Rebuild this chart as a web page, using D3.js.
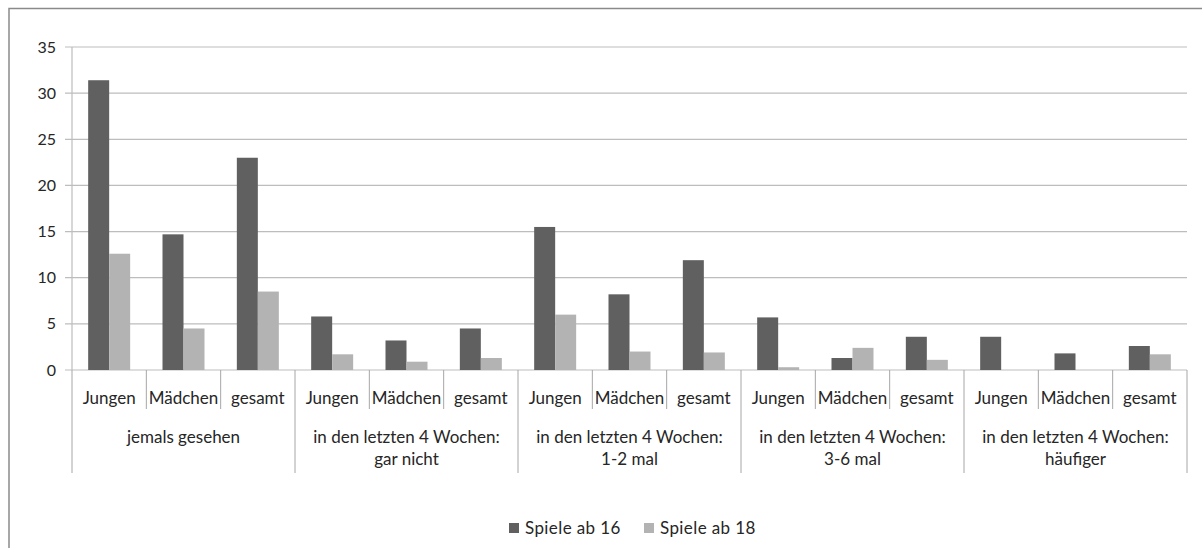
<!DOCTYPE html>
<html>
<head>
<meta charset="utf-8">
<script src="https://cdn.jsdelivr.net/npm/d3@7"></script>
<style>
  body { margin: 0; background: #fff; }
  svg { display: block; font-family: Lato, "Open Sans", sans-serif; }
</style>
</head>
<body>
<svg id="chart"></svg>
<script>
const groups = [
    ['jemals gesehen'],
    ['in den letzten 4 Wochen:', 'gar nicht'],
    ['in den letzten 4 Wochen:', '1-2 mal'],
    ['in den letzten 4 Wochen:', '3-6 mal'],
    ['in den letzten 4 Wochen:', 'häufiger']
];
const subs = ['Jungen', 'Mädchen', 'gesamt'];
const seriesNames = ['Spiele ab 16', 'Spiele ab 18'];
const ab16 = [31.4, 14.7, 23.0, 5.8, 3.2, 4.5, 15.5, 8.2, 11.9, 5.7, 1.3, 3.6, 3.6, 1.8, 2.6];
const ab18 = [12.6, 4.5, 8.5, 1.7, 0.9, 1.3, 6.0, 2.0, 1.9, 0.3, 2.4, 1.1, 0, 0, 1.7];
const yTicks = [0, 5, 10, 15, 20, 25, 30, 35];

document.addEventListener("DOMContentLoaded", function() {
    const width = 1202, height = 548;
    const left = 72, right = 1187, top = 47, bottom = 370;
    const colors = ['#606060', '#b3b3b3'];
    const textColor = '#262626';

    const svg = d3.select('#chart')
        .attr('width', width)
        .attr('height', height);

    // outer border (right and bottom cut off in the picture)
    svg.append('path')
        .attr('d', `M9,${height} V8.5 H${width}`)
        .attr('fill', 'none')
        .attr('stroke', '#8a8a8a')
        .attr('stroke-width', 1.5);

    const cats = d3.range(ab16.length);
    const x = d3.scaleBand().domain(cats).range([left, right])
        .paddingInner(0.435).paddingOuter(0.2175);
    const x1 = d3.scaleBand().domain([0, 1]).range([0, x.bandwidth()]);
    const y = d3.scaleLinear().domain([0, 35]).range([bottom, top]);
    const step = x.step();

    // gridlines
    svg.selectAll('line.grid')
        .data(yTicks)
        .enter().append('line')
        .attr('class', 'grid')
        .attr('x1', left - 7)
        .attr('x2', right)
        .attr('y1', d => y(d))
        .attr('y2', d => y(d))
        .attr('stroke', '#bdbdbd')
        .attr('stroke-width', 1.2);

    // y axis line
    svg.append('line')
        .attr('x1', left).attr('x2', left)
        .attr('y1', y(35)).attr('y2', y(0))
        .attr('stroke', '#bdbdbd')
        .attr('stroke-width', 1.2);

    svg.selectAll('text.ytick')
        .data(yTicks)
        .enter().append('text')
        .attr('class', 'ytick')
        .attr('x', 56)
        .attr('y', d => y(d))
        .attr('dy', '0.35em')
        .attr('text-anchor', 'end')
        .attr('fill', textColor)
        .style('font-size', '16px')
        .text(d => d);

    // bars
    const rows = cats.map(i => [ab16[i], ab18[i]]);
    const g = svg.selectAll('g.cat')
        .data(rows)
        .enter().append('g')
        .attr('transform', (d, i) => `translate(${x(i)},0)`);
    g.selectAll('rect')
        .data(d => d)
        .enter().append('rect')
        .attr('x', (d, j) => x1(j))
        .attr('width', x1.bandwidth())
        .attr('y', d => y(d))
        .attr('height', d => y(0) - y(d))
        .attr('fill', (d, j) => colors[j]);

    // category boundaries
    svg.selectAll('line.xtick')
        .data(d3.range(cats.length + 1))
        .enter().append('line')
        .attr('class', 'xtick')
        .attr('x1', d => left + d * step)
        .attr('x2', d => left + d * step)
        .attr('y1', bottom)
        .attr('y2', d => d % 3 === 0 ? 473 : 409)
        .attr('stroke', '#a6a6a6')
        .attr('stroke-width', 1);

    // sub labels
    svg.selectAll('text.sub')
        .data(cats)
        .enter().append('text')
        .attr('class', 'sub')
        .attr('x', d => x(d) + x.bandwidth() / 2)
        .attr('y', 398)
        .attr('dy', '0.35em')
        .attr('text-anchor', 'middle')
        .attr('fill', textColor)
        .style('font-size', '17px')
        .text(d => subs[d % 3]);

    // group labels
    const gl = svg.selectAll('text.group')
        .data(groups)
        .enter().append('text')
        .attr('class', 'group')
        .attr('x', (d, i) => left + (i * 3 + 1.5) * step)
        .attr('y', 437)
        .attr('text-anchor', 'middle')
        .attr('fill', textColor)
        .style('font-size', '17px');
    gl.selectAll('tspan')
        .data(d => d)
        .enter().append('tspan')
        .attr('x', function() { return d3.select(this.parentNode).attr('x'); })
        .attr('dy', (d, i) => i === 0 ? '0.35em' : 22)
        .text(d => d);

    // legend
    const legX = [509, 644];
    const leg = svg.selectAll('g.legend')
        .data(seriesNames)
        .enter().append('g')
        .attr('transform', (d, i) => `translate(${legX[i]},523)`);
    leg.append('rect')
        .attr('width', 10).attr('height', 10)
        .attr('fill', (d, i) => colors[i]);
    leg.append('text')
        .attr('x', 16)
        .attr('y', 5)
        .attr('dy', '0.35em')
        .attr('fill', textColor)
        .style('font-size', '17px')
        .style('letter-spacing', '0.4px')
        .text(d => d);
});
</script>
</body>
</html>
